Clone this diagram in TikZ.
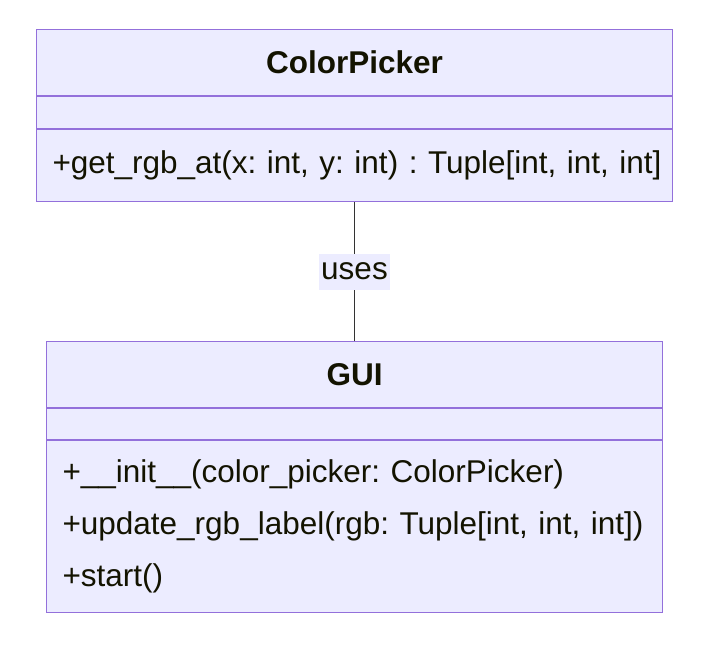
\documentclass[tikz,border=0pt]{standalone}
\usepackage{fontspec}
\setmainfont{Liberation Sans}
\usepackage{xcolor}
\usetikzlibrary{positioning}
\definecolor{classfill}{HTML}{ECECFF}
\definecolor{classline}{HTML}{9370DB}
\definecolor{classtext}{HTML}{131300}
\definecolor{edgeline}{HTML}{333333}
\frenchspacing

\begin{document}
\begin{tikzpicture}[x=1pt,y=-1pt,
    part/.style={draw=classline, fill=classfill, line width=1pt,
      inner sep=0pt, text=classtext, font=\fontsize{31.5}{52}\selectfont},
    title/.style={part, font=\fontsize{31.5}{36}\selectfont\bfseries},
    methods/.style={part, inner xsep=16pt, align=left},
    relation/.style={edgeline, line width=1.3pt}]
  \useasboundingbox (0,0) rectangle (704,648);

  % ColorPicker class
  \node[title, anchor=north west, minimum width=636pt, minimum height=66pt]
    (cp title) at (36,29) {ColorPicker};
  \node[part, below=0pt of cp title, minimum width=636pt, minimum height=32pt]
    (cp attrs) {};
  \node[methods, below=0pt of cp attrs, text width=604pt, minimum height=72pt]
    (cp methods) {\mbox{+get\_rgb\_at(x: int, y: int) : Tuple[int, int, int]}};

  % GUI class
  \node[title, anchor=north west, minimum width=616pt, minimum height=66pt]
    (gui title) at (46,341) {GUI};
  \node[part, below=0pt of gui title, minimum width=616pt, minimum height=31pt]
    (gui attrs) {};
  \node[methods, below=0pt of gui attrs, text width=584pt, minimum height=172pt]
    (gui methods) {+\_\_init\_\_(color\_picker: ColorPicker)\\
      +update\_rgb\_label(rgb: Tuple[int, int, int])\\
      +start()};

  % association
  \draw[relation] (cp methods.south) -- node[fill=classfill, text=classtext,
      font=\fontsize{31.5}{36}\selectfont, inner xsep=2pt,
      minimum height=36pt] (uses) {uses} (gui title.north);
\end{tikzpicture}
\end{document}
